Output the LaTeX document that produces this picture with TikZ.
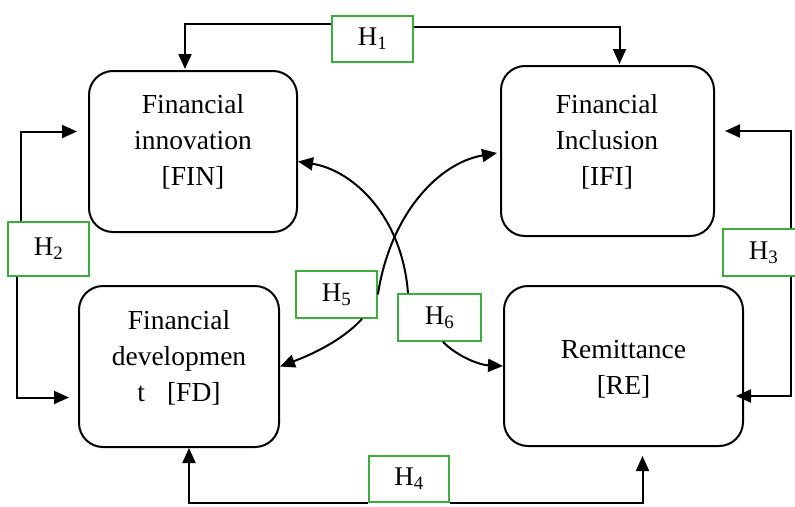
\documentclass[tikz,border=0pt]{standalone}
\usepackage{fontspec}
\setmainfont{Liberation Serif}
\usetikzlibrary{arrows.meta,calc}
\definecolor{hgreen}{RGB}{60,172,60}
\tikzset{
  mainbox/.style={draw=black, line width=2pt, rounded corners=24pt, inner sep=0pt},
  boxtext/.style={align=center, inner sep=0pt, font=\fontsize{27.5}{36}\selectfont},
  hbox/.style={draw=hgreen, line width=1.8pt, inner sep=0pt, font=\fontsize{27}{30}\selectfont},
  arr/.style={line width=2pt, -{Triangle[length=15pt,width=13pt]}},
  ln/.style={line width=2pt}
}
\begin{document}
\begin{tikzpicture}[x=1pt,y=-1pt]
\useasboundingbox (0,0) rectangle (795,506);
% main boxes
\node[mainbox, minimum width=208pt, minimum height=161pt] (FIN) at (193,151.5) {};
\node[mainbox, minimum width=213pt, minimum height=170pt] (IFI) at (607.5,151) {};
\node[mainbox, minimum width=200pt, minimum height=161pt] (FD) at (179,366.5) {};
\node[mainbox, minimum width=239pt, minimum height=160pt] (RE) at (623.5,366) {};
% texts
\node[boxtext] (tFIN) at (193,142) {Financial\\innovation\\{[FIN]}};
\node[boxtext] (tIFI) at (607,142) {Financial\\Inclusion\\{[IFI]}};
\node[boxtext] (tFD) at (179,358) {Financial\\developmen\\t\hspace{0.8em}[FD]};
\node[boxtext] (tRE) at (623.5,369) {Remittance\\{[RE]}};
% hypothesis labels
\node[hbox, minimum width=81pt, minimum height=46pt] (H1) at (372.5,39) {H\textsubscript{1}};
\node[hbox, minimum width=81pt, minimum height=54pt] (H2) at (48.5,249) {H\textsubscript{2}};
\node[hbox, minimum width=81pt, minimum height=47pt] (H3) at (763.5,252.5) {H\textsubscript{3}};
\node[hbox, minimum width=80pt, minimum height=46pt] (H4) at (409,479) {H\textsubscript{4}};
\node[hbox, minimum width=81pt, minimum height=47pt] (H5) at (336.5,294.5) {H\textsubscript{5}};
\node[hbox, minimum width=83pt, minimum height=47pt] (H6) at (439.5,317.5) {H\textsubscript{6}};
% H1
\draw[arr] ($(H1.west)+(0,-15)$) -| ($(FIN.north)+(-8,-1)$);
\draw[arr] ($(H1.east)+(0,-12)$) -| ($(IFI.north)+(12,-1)$);
% H2
\draw[arr] ($(H2.north)+(-28,0)$) |- ($(FIN.west)+(-11,-20)$);
\draw[arr] ($(H2.south)+(-32,0)$) |- ($(FD.west)+(-9,31)$);
% H3
\draw[arr] ($(H3.north)+(27.5,0)$) |- ($(IFI.east)+(10,-20)$);
\draw[arr] ($(H3.south)+(27.5,0)$) |- ($(RE.east)+(-8,30)$);
% H4
\draw[arr] (H4.south west) -| ($(FD.south)+(10,0)$);
\draw[arr] (H4.south east) -| ($(RE.south)+(19,9)$);
% H5 curves
\coordinate (H5a) at (H5.east);
\coordinate (H5b) at ($(H5.south)+(25.5,0)$);
\coordinate (IFIin) at ($(IFI.west)+(-3,2)$);
\draw[arr] (H5a) .. controls (390,215) and (438,163) .. (IFIin);
\draw[arr] (H5b) .. controls (340,343) and (305,357) .. (FD.east);
% H6 curves
\coordinate (H6a) at ($(H6.north)+(-31.5,0)$);
\coordinate (H6b) at ($(H6.south)+(3.5,0)$);
\coordinate (FINin) at ($(FIN.east)+(0,10)$);
\draw[arr] (H6a) .. controls (402,215) and (352,170) .. (FINin);
\draw[arr] (H6b) .. controls (458,357) and (480,365) .. (RE.west);
\end{tikzpicture}
\end{document}
